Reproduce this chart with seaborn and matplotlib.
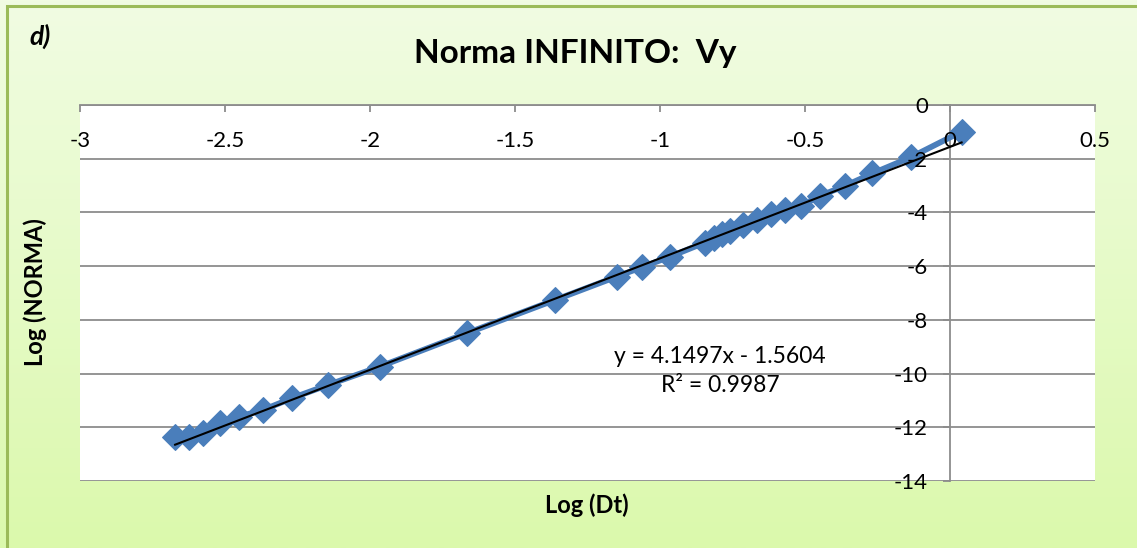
import numpy as np
import pandas as pd
import matplotlib
matplotlib.use("Agg")
import matplotlib.pyplot as plt
import seaborn as sns
from matplotlib.patches import Rectangle

# ---- data ----
log_dt = [-2.672, -2.623, -2.575, -2.517, -2.451, -2.368, -2.270, -2.144, -1.966,
          -1.667, -1.362, -1.149, -1.063, -0.966, -0.845, -0.815, -0.785, -0.757,
          -0.713, -0.667, -0.618, -0.569, -0.515, -0.448, -0.362, -0.268, -0.136, 0.040]
log_norma = [-12.35, -12.37, -12.20, -11.85, -11.60, -11.35, -10.92, -10.42, -9.74,
             -8.50, -7.26, -6.39, -6.04, -5.65, -5.12, -4.97, -4.82, -4.68,
             -4.47, -4.28, -4.05, -3.91, -3.77, -3.38, -3.01, -2.55, -1.95, -0.99]
slope = 4.1497
intercept = -1.5604
r2 = 0.9987
x_ticks = [-3, -2.5, -2, -1.5, -1, -0.5, 0, 0.5]
x_tick_labels = ["-3", "-2.5", "-2", "-1.5", "-1", "-0.5", "0", "0.5"]
y_ticks = [0, -2, -4, -6, -8, -10, -12, -14]
y_tick_labels = ["0", "-2", "-4", "-6", "-8", "-10", "-12", "-14"]
title = "Norma INFINITO:  Vy"
x_label = "Log (Dt)"
y_label = "Log (NORMA)"
panel = "d)"

df = pd.DataFrame({"x": log_dt, "y": log_norma})
xt = [min(log_dt), max(log_dt)]
trend = pd.DataFrame({"x": xt, "y": [slope * v + intercept for v in xt]})

plt.rcParams["font.family"] = ["Lato", "DejaVu Sans"]
plt.rcParams["axes.unicode_minus"] = False

W, H = 1137, 548
fig = plt.figure(figsize=(W / 100, H / 100), dpi=100)

# background gradient
bg = fig.add_axes([0, 0, 1, 1], zorder=-10)
top_c = np.array([0xf1, 0xfc, 0xe3]) / 255
bot_c = np.array([0xdb, 0xf9, 0xac]) / 255
t = np.linspace(0, 1, 256)[:, None]
img = (top_c[None, None, :] * (1 - t[:, :, None]) + bot_c[None, None, :] * t[:, :, None])
bg.imshow(img, aspect="auto", extent=[0, 1, 0, 1], origin="upper")
bg.set_xlim(0, 1); bg.set_ylim(0, 1)
bg.axis("off")
bg.add_patch(Rectangle((7 / W, -0.01), 1.1, 1 - 6 / H + 0.01, fill=False,
                       edgecolor="#9bbb59", lw=2.2, transform=bg.transAxes))

left, right = 80 / W, 1095 / W
top, bottom = 1 - 105 / H, 1 - 481 / H
ax = fig.add_axes([left, bottom, right - left, top - bottom])
ax.set_facecolor("white")

sns.lineplot(data=df, x="x", y="y", sort=False, ax=ax, color="#4a7ebb",
             linewidth=4.2, marker="D", markersize=13, markeredgecolor="#4a7ebb",
             zorder=2)
sns.lineplot(data=trend, x="x", y="y", sort=False, ax=ax, color="black",
             linewidth=1.5, zorder=2.1)

ax.set_xlim(-3, 0.5)
ax.set_ylim(-14, 0)
ax.set_xticks(x_ticks)
ax.set_xticklabels(x_tick_labels)
ax.set_yticks(y_ticks)
ax.set_yticklabels(y_tick_labels)

for s in ["top", "right"]:
    ax.spines[s].set_visible(False)
ax.spines["bottom"].set_position(("data", 0))
ax.spines["left"].set_position(("data", 0))
for s in ["bottom", "left"]:
    ax.spines[s].set_color("#8c8c8c")
    ax.spines[s].set_linewidth(1.3)
    ax.spines[s].set_zorder(1)

# horizontal gridlines behind data
ax.grid(False)
for yv in y_ticks:
    ax.axhline(yv, color="#8c8c8c", linewidth=1.3, zorder=0.5)
ax.set_axisbelow(False)

ax.tick_params(axis="x", direction="out", length=5, width=1.3, color="#8c8c8c",
               labelsize=16, pad=14)
ax.tick_params(axis="y", direction="out", length=5, width=1.3, color="#8c8c8c",
               labelsize=16, pad=11)

ax.set_xlabel("")
ax.set_ylabel("")
fig.text(587 / W, 1 - 505 / H, x_label, ha="center", va="center",
         fontsize=17, fontweight="bold")
fig.text(35 / W, 1 - 292 / H, y_label, ha="center", va="center",
         rotation=90, fontsize=17, fontweight="bold")
fig.text(575 / W, 1 - 54 / H, title, ha="center", va="center",
         fontsize=24, fontweight="bold")
fig.text(40 / W, 1 - 36 / H, panel, ha="center", va="center",
         fontsize=19, fontweight="bold", style="italic")

ax.text(-0.793, -9.35, f"y = {slope}x - {abs(intercept)}", ha="center",
        va="center", fontsize=16.5)
ax.text(-0.793, -10.46, f"R² = {r2}", ha="center", va="center", fontsize=16.5)

fig.savefig("out.png", dpi=100)
